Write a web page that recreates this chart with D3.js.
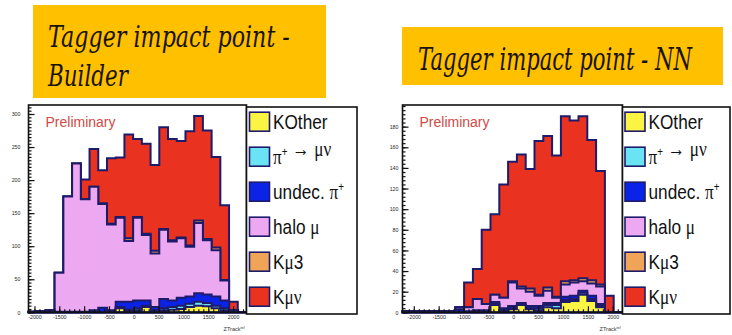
<!DOCTYPE html>
<html>
<head>
<meta charset="utf-8">
<script src="https://cdn.jsdelivr.net/npm/d3@7"></script>
<style>
    body { margin: 0; background: #fff; }
    svg { display: block; }
</style>
</head>
<body>
<svg id="chart" width="732" height="335"></svg>
<script>

// ---- data (25 bins per panel, bottom of stack first) ----
let seriesKeys = ["KOther", "piMuNu", "undecPi", "haloMu", "Kmu3", "Kmunu"];
let seriesLabels = ["KOther", "π+ → μν", "undec. π+", "halo μ", "Kμ3", "Kμν"];
let seriesColors = ["#fbf443", "#6ae3f4", "#0a23e6", "#eca8f0", "#f0a458", "#e9321f"];

let builderKOther  = [0,0,0,0,0,0,0,0,0,1,6,2,3,8,2,3,4,5,8,10,9,6,3,0,0];
let builderPiMuNu  = [0,0,0,0,0,0,0,0,0,0,2,2,3,2,1,3,4,5,5,6,5,4,3,0,0];
let builderUndecPi = [1,1,1,1,1,1,1,3,7,2,8,12,12,8,5,14,10,12,11,13,13,14,12,3,0];
let builderHaloMu  = [0,1,2,59,174,224,170,187,157,130,127,92,125,99,81,105,89,90,75,106,82,70,30,0,0];
let builderKmu3    = [0,0,0,0,0,0,0,0,1,1,1,4,1,2,4,1,2,1,2,4,2,4,1,0,0];
let builderKmunu   = [0,0,0,0,0,0,30,57,50,99,90,157,118,136,130,154,153,146,173,158,164,137,113,13,0];

let nnKOther  = [0,0,0,0,0,0,0,0,1,0,7,2,3,7,3,2,5,4,10,11,17,11,5,0,0];
let nnPiMuNu  = [0,0,0,0,0,0,0,0,0,0,1,0,1,0,1,2,2,3,2,2,2,2,1,0,0];
let nnUndecPi = [1,1,1,1,1,1,3,1,1,2,2,2,2,2,2,2,2,2,3,3,2,3,2,0,0];
let nnHaloMu  = [0,0,0,0,0,0,2,4,11,6,7,10,23,14,14,10,12,5,12,13,9,12,17,0,0];
let nnKmu3    = [0,0,0,0,0,0,0,0,0,0,0,0,1,2,3,1,3,1,3,2,3,3,2,0,0];
let nnKmunu   = [0,0,0,0,0,0,0,24,29,72,78,110,116,128,116,149,147,137,160,155,157,136,110,16,0];

let builderYTicks = [0, 50, 100, 150, 200, 250, 300];
let nnYTicks = [0, 20, 40, 60, 80, 100, 120, 140, 160, 180];
let xTicks = [-2000, -1500, -1000, -500, 0, 500, 1000, 1500, 2000];
let binCount = 25;

let panels = [
    {
        title: ["Tagger impact point -", "Builder"],
        box: {x: 33, y: 5, w: 293, h: 93}, titleX: 48, titleY: [47, 85.5], titleLen: [242, 80], titleSize: 30,
        left: 28.5, right: 246.5, top: 105, bottom: 312.3,
        xDomain: [-2120, 2270], yDomain: [0, 313.6], yTicks: builderYTicks, yMinor: 5, yPad: 8,
        series: [builderKOther, builderPiMuNu, builderUndecPi, builderHaloMu, builderKmu3, builderKmunu],
        legend: {x: 246.5, y: 107, w: 110.5, h: 207, sx: 249.5, tx: 273}
    },
    {
        title: ["Tagger impact point - NN"],
        box: {x: 402, y: 27, w: 321, h: 58}, titleX: 418, titleY: [70], titleLen: [274], titleSize: 31,
        left: 402.5, right: 622.5, top: 105, bottom: 312.3,
        xDomain: [-2227, 2195], yDomain: [0, 201], yTicks: nnYTicks, yMinor: 4, yPad: 4,
        series: [nnKOther, nnPiMuNu, nnUndecPi, nnHaloMu, nnKmu3, nnKmunu],
        legend: {x: 622.5, y: 107, w: 107.5, h: 207, sx: 625, tx: 648.5}
    }
];

let outline = "#1e1b6b";
let svg = d3.select("svg#chart");

// legend label: greek letters in serif, "+" after pi as superscript
function richLabel(text, label) {
    let parts = label.match(/π\+|[μν]+|[^πμν]+/g);
    parts.forEach(function(p) {
        if (p === "π+") {
            text.append("tspan").attr("font-family", "Liberation Serif").text("π");
            text.append("tspan").attr("font-size", "12px").attr("dy", -8).text("+");
            text.append("tspan").attr("dy", 8).text("");
        } else if (/^[μν]+$/.test(p)) {
            text.append("tspan").attr("font-family", "Liberation Serif").text(p);
        } else {
            text.append("tspan").text(p);
        }
    });
}

panels.forEach(function(p) {

    // title box
    svg.append("rect")
        .attr("x", p.box.x).attr("y", p.box.y)
        .attr("width", p.box.w).attr("height", p.box.h)
        .attr("fill", "#ffc000");
    p.title.forEach(function(line, i) {
        let t = svg.append("text")
            .attr("font-family", "DejaVu Serif").attr("font-style", "italic")
            .attr("font-size", p.titleSize + "px").attr("fill", "#1a1408")
            .text(line);
        // squeeze horizontally to the width seen in the picture
        let natural = t.node().getComputedTextLength();
        t.attr("transform", "translate(" + p.titleX + "," + p.titleY[i] + ") scale(" + (p.titleLen[i] / natural) + ",1)");
    });

    let x = d3.scaleLinear().domain(p.xDomain).range([p.left, p.right]);
    let y = d3.scaleLinear().domain(p.yDomain).range([p.bottom, p.top]);
    let edges = d3.range(binCount + 1).map(function(i) {
        return p.xDomain[0] + (p.xDomain[1] - p.xDomain[0]) * i / binCount;
    });

    let rows = d3.range(binCount).map(function(k) {
        let r = {bin: k};
        seriesKeys.forEach(function(key, s) { r[key] = p.series[s][k]; });
        return r;
    });
    let stacked = d3.stack().keys(seriesKeys)(rows);

    let line = d3.line()
        .x(function(d) { return x(d[0]); })
        .y(function(d) { return y(d[1]); });

    let g = svg.append("g");

    // ROOT style stack: each cumulative histogram filled from zero, top one first
    for (let s = stacked.length - 1; s >= 0; s--) {
        let pts = [[edges[0], 0]];
        stacked[s].forEach(function(d, k) {
            pts.push([edges[k], d[1]]);
            pts.push([edges[k + 1], d[1]]);
        });
        pts.push([edges[binCount], 0]);
        g.append("path")
            .datum(pts)
            .attr("d", function(d) { return line(d) + "Z"; })
            .attr("fill", seriesColors[s])
            .attr("stroke", outline)
            .attr("stroke-width", 2)
            .attr("stroke-linejoin", "miter");
    }

    // axes, ticks inward
    let yAxis = g.append("g")
        .attr("transform", "translate(" + p.left + ",0)")
        .call(d3.axisLeft(y).tickValues(p.yTicks).tickSize(-6).tickPadding(p.yPad)
            .tickFormat(function(d) { return String(d); }));
    let yMinor = g.append("g")
        .attr("transform", "translate(" + p.left + ",0)")
        .call(d3.axisLeft(y).tickValues(d3.range(0, p.yDomain[1], p.yMinor)).tickSize(-3).tickFormat(""));
    let xAxis = g.append("g")
        .attr("transform", "translate(0," + p.bottom + ")")
        .call(d3.axisBottom(x).tickValues(xTicks).tickSize(-6).tickPadding(2.5)
            .tickFormat(function(d) { return String(d); }));
    let xMinor = g.append("g")
        .attr("transform", "translate(0," + p.bottom + ")")
        .call(d3.axisBottom(x).tickValues(d3.range(-2100, p.xDomain[1], 100)).tickSize(-3).tickFormat(""));

    [yAxis, yMinor, xAxis, xMinor].forEach(function(a) {
        a.select(".domain").remove();
        a.selectAll("line").attr("stroke", "#111").attr("stroke-width", 1.2);
        a.selectAll("text").attr("font-family", "Liberation Sans").attr("font-size", "5.3px").attr("fill", "#2a2a2a");
    });

    // frame
    g.append("rect")
        .attr("x", p.left).attr("y", p.top)
        .attr("width", p.right - p.left).attr("height", p.bottom - p.top)
        .attr("fill", "none").attr("stroke", "#111").attr("stroke-width", 1.6);

    let zt = g.append("text")
        .attr("x", p.right - 2).attr("y", 331)
        .attr("text-anchor", "end")
        .attr("font-family", "Liberation Sans").attr("font-size", "5.5px").attr("fill", "#333");
    zt.append("tspan").text("ZTrack");
    zt.append("tspan").attr("font-size", "3.8px").attr("dy", -2.5).text("tel");

    g.append("text")
        .attr("x", p.left + 17).attr("y", 127)
        .attr("font-family", "Liberation Sans").attr("font-size", "14px").attr("fill", "#cf4a45")
        .attr("textLength", 70).attr("lengthAdjust", "spacingAndGlyphs")
        .text("Preliminary");

    // legend
    let lg = svg.append("g");
    lg.append("rect")
        .attr("x", p.legend.x).attr("y", p.legend.y)
        .attr("width", p.legend.w).attr("height", p.legend.h)
        .attr("fill", "#fff").attr("stroke", "#111").attr("stroke-width", 1.6);
    seriesLabels.forEach(function(label, i) {
        let cy = 121.7 + 35 * i;
        lg.append("rect")
            .attr("x", p.legend.sx).attr("y", cy - 9.5)
            .attr("width", 20).attr("height", 19)
            .attr("fill", seriesColors[i]).attr("stroke", outline).attr("stroke-width", 1.6);
        let t = lg.append("text")
            .attr("transform", "translate(" + p.legend.tx + "," + (cy + 7.5) + ") scale(0.82,1)")
            .attr("font-family", "Liberation Sans").attr("font-size", "21px").attr("fill", "#111");
        richLabel(t, label);
    });
});

</script>
</body>
</html>
